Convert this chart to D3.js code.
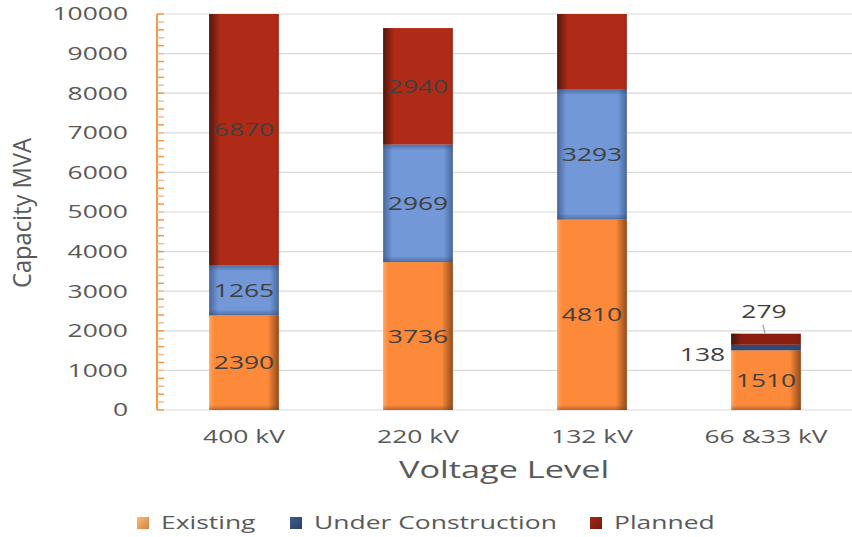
<!DOCTYPE html>
<html><head><meta charset="utf-8">
<script src="https://cdn.jsdelivr.net/npm/d3@7"></script>
<style>body{margin:0;background:#fff}svg{display:block}text{font-family:"Open Sans",sans-serif}</style>
</head><body><svg id="c" width="852" height="537"></svg>
<script>
const categories = ["400 kV","220 kV","132 kV","66 &33 kV"];
const seriesNames = ["Existing","Under Construction","Planned"];
const existing = [2390,3736,4810,1510];
const underConstruction = [1265,2969,3293,138];
const planned = [6870,2940,4000,279];
const yTicks = [0,1000,2000,3000,4000,5000,6000,7000,8000,9000,10000];

const W=852,H=537, L=157, R=853, T=14, B=410, SX=1.43;
const svg=d3.select("#c");
const defs=svg.append("defs");
const x=d3.scaleBand().domain(categories).range([L,R]).paddingInner(0.6).paddingOuter(0.3);
const y=d3.scaleLinear().domain([0,10000]).range([B,T]);

defs.append("clipPath").attr("id","plot").append("rect").attr("x",L).attr("y",T).attr("width",R-L).attr("height",B-T);

// gridlines
svg.append("g").selectAll("line").data(yTicks).join("line")
  .attr("x1",L).attr("x2",W).attr("y1",d=>y(d)).attr("y2",d=>y(d))
  .attr("stroke","#d9d9d9").attr("stroke-width",1.2);

function grad(id,x1,y1,x2,y2,stops){
  const g=defs.append("linearGradient").attr("id",id).attr("x1",x1).attr("y1",y1).attr("x2",x2).attr("y2",y2);
  stops.forEach(s=>g.append("stop").attr("offset",s[0]).attr("stop-color",s[1]).attr("stop-opacity",s[2]));
}
const styles=[
  {fill:"#FD8A3A", small:"#E07A30", edges:{l:[5,"#ffc090",0.5],r:[11,"#6e3614",0.75],b:[5,"#6e3614",0.45]}},
  {fill:"#7298D8", small:"#2F4A78", edges:{l:[9,"#2d4670",0.6],r:[9,"#2d4670",0.6],t:[6,"#2d4670",0.5],b:[6,"#2d4670",0.5]}},
  {fill:"#B02B17", small:"#8A1F10", edges:{l:[11,"#3a120a",0.8],r:[3,"#5a180c",0.3]}}
];
styles.forEach((s,i)=>{
  Object.entries(s.edges).forEach(([k,v])=>{
    const id=`g${i}${k}`;
    if(k==="l") grad(id,0,0,1,0,[[0,v[1],v[2]],[1,v[1],0]]);
    if(k==="r") grad(id,0,0,1,0,[[0,v[1],0],[1,v[1],v[2]]]);
    if(k==="t") grad(id,0,0,0,1,[[0,v[1],v[2]],[1,v[1],0]]);
    if(k==="b") grad(id,0,0,0,1,[[0,v[1],0],[1,v[1],v[2]]]);
  });
});
const legendGrad=["#FFA35A","#34507E","#8E2210"];
legendGrad.forEach((c,i)=>grad("lg"+i,0,0,1,1,[[0,d3.color(c).brighter(0.4),1],[1,d3.color(c).darker(0.6),1]]));

const rows=categories.map((c,i)=>({cat:c,v:[existing[i],underConstruction[i],planned[i]]}));
const stack=d3.stack().keys([0,1,2]).value((d,k)=>d.v[k]);
const layers=stack(rows);

const barG=svg.append("g").attr("clip-path","url(#plot)");
layers.forEach((layer,si)=>{
  const st=styles[si];
  layer.forEach(seg=>{
    const x0=x(seg.data.cat), bw=x.bandwidth();
    const yt=y(seg[1]), yb=y(seg[0]), h=yb-yt;
    const g=barG.append("g");
    g.append("rect").attr("x",x0).attr("y",yt).attr("width",bw).attr("height",h).attr("fill",h<16?st.small:st.fill);
    const e=st.edges;
    if(e.l) g.append("rect").attr("x",x0).attr("y",yt).attr("width",Math.min(e.l[0],bw/2)).attr("height",h).attr("fill",`url(#g${si}l)`);
    if(e.r) g.append("rect").attr("x",x0+bw-e.r[0]).attr("y",yt).attr("width",e.r[0]).attr("height",h).attr("fill",`url(#g${si}r)`);
    if(e.t&&h>2) g.append("rect").attr("x",x0).attr("y",yt).attr("width",bw).attr("height",Math.min(e.t[0],h/2)).attr("fill",`url(#g${si}t)`);
    if(e.b&&h>2) g.append("rect").attr("x",x0).attr("y",yb-Math.min(e.b[0],h/2)).attr("width",bw).attr("height",Math.min(e.b[0],h/2)).attr("fill",`url(#g${si}b)`);
  });
});

function sText(g,tx,ty,str,size,anchor,color){
  return g.append("text").attr("transform",`translate(${tx},${ty}) scale(${SX},1)`)
    .attr("text-anchor",anchor).attr("dy","0.35em").attr("font-size",size).attr("fill",color).text(str);
}

// y axis
const ax=svg.append("g");
ax.append("line").attr("x1",L).attr("x2",L).attr("y1",T).attr("y2",B).attr("stroke","#F79646").attr("stroke-width",2);
ax.selectAll(".mt").data(d3.range(0,10001,200)).join("line")
  .attr("x1",L).attr("x2",L+7).attr("y1",d=>y(d)).attr("y2",d=>y(d))
  .attr("stroke",(d,i)=>i%2?"#FBB988":"#F79646").attr("stroke-width",1.5);
yTicks.forEach(t=>sText(ax,128,y(t),d3.format("d")(t),18.5,"end","#595959"));

// x labels
categories.forEach(c=>sText(svg,x(c)+x.bandwidth()/2,437,c,18.5,"middle","#595959"));
sText(svg,(L+R)/2-1,470,"Voltage Level",24,"middle","#595959");

// y title
svg.append("text").attr("transform","translate(22,213) rotate(-90)").attr("text-anchor","middle").attr("dy","0.35em")
  .attr("font-family","'Liberation Sans Narrow',Roboto,sans-serif").attr("font-size",26).attr("fill","#595959")
  .attr("textLength",150).attr("lengthAdjust","spacingAndGlyphs").text("Capacity MVA");

// data labels
const lab=svg.append("g");
layers.forEach((layer,si)=>{
  layer.forEach((seg,ci)=>{
    const v=seg.data.v[si], mid=(seg[0]+seg[1])/2;
    if(mid>10000) return;
    const cx=x(seg.data.cat)+x.bandwidth()/2, h=y(seg[0])-y(seg[1]);
    if(h>=25){ sText(lab,cx,y(mid),v,18.5,"middle","#404040"); }
    else if(si===1){ sText(lab,x(seg.data.cat)-6,y(mid)+7,v,18.5,"end","#404040"); }
    else {
      const top=y(seg[1]);
      sText(lab,cx-2,top-22,v,18.5,"middle","#404040");
      lab.append("line").attr("x1",cx-3).attr("y1",top-9).attr("x2",cx-1).attr("y2",top).attr("stroke","#a6a6a6").attr("stroke-width",1.3);
    }
  });
});

// legend
const lgX=[137,290,590];
const lg=svg.append("g");
seriesNames.forEach((n,i)=>{
  lg.append("rect").attr("x",lgX[i]).attr("y",517).attr("width",12).attr("height",12).attr("fill",`url(#lg${i})`);
  sText(lg,lgX[i]+24,523,n,18.5,"start","#595959");
});
</script></body></html>
